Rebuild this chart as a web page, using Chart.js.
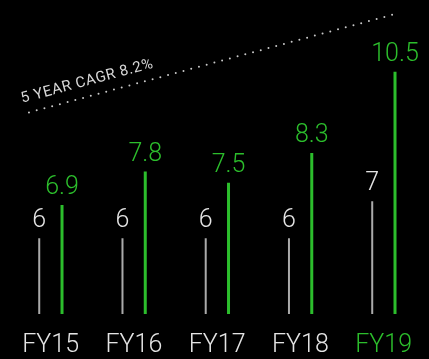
<!DOCTYPE html>
<html>
<head>
<meta charset="utf-8">
<title>Revenue FY15-FY19</title>
<style>
  html, body { margin: 0; padding: 0; background: #000; }
  .container { width: 429px; height: 359px; }
</style>
</head>
<body>
<div class="container">
  <canvas id="myChart"></canvas>
</div>
<script src="https://cdn.jsdelivr.net/npm/chart.js@4.4.0/dist/chart.umd.min.js"></script>
<script>
  // chart data
  var years = ['FY15', 'FY16', 'FY17', 'FY18', 'FY19'];
  var baseValues = [6, 6, 6, 6, 7];
  var greenValues = [6.9, 7.8, 7.5, 8.3, 10.5];
  // dotted CAGR line (x in category index units, y in value units)
  var cagrX = [-0.26, 4.12];
  var cagrY = [9.4, 12.05];
  var cagrLabel = '5 YEAR CAGR 8.2%';

  var GREEN = 'rgb(44, 190, 44)';
  var WHITE = 'rgb(228, 228, 228)';
  var GRAY = 'rgb(170, 170, 170)';
  var FONT = '"Helvetica Neue", Roboto, "Liberation Sans", sans-serif';

  var blackBg = {
    id: 'blackBg',
    beforeDraw: function(chart) {
      var c = chart.ctx;
      c.save();
      c.fillStyle = '#000';
      c.fillRect(0, 0, chart.width, chart.height);
      c.restore();
    }
  };

  // dotted CAGR line, drawn through the chart's scales
  var cagrPlugin = {
    id: 'cagrPlugin',
    afterDatasetsDraw: function(chart) {
      var c = chart.ctx;
      var xs = chart.scales.x, ys = chart.scales.y;
      var x0 = xs.getPixelForValue(cagrX[0]), y0 = ys.getPixelForValue(cagrY[0]);
      var x1 = xs.getPixelForValue(cagrX[1]), y1 = ys.getPixelForValue(cagrY[1]);
      c.save();
      c.strokeStyle = 'rgb(200, 200, 200)';
      c.lineWidth = 2;
      c.lineCap = 'round';
      c.setLineDash([0, 8]);
      c.beginPath();
      c.moveTo(x0, y0);
      c.lineTo(x1, y1);
      c.stroke();
      c.setLineDash([]);

      var ang = Math.atan2(y1 - y0, x1 - x0);
      c.translate(x0, y0);
      c.rotate(ang);
      c.font = '15px ' + FONT;
      c.letterSpacing = '0.6px';
      c.textAlign = 'left';
      c.textBaseline = 'alphabetic';
      c.fillStyle = 'rgb(215, 215, 215)';
      c.fillText(cagrLabel, -4, -11);
      c.restore();
    }
  };

  // value labels above bars
  var labelsPlugin = {
    id: 'labelsPlugin',
    afterDatasetsDraw: function(chart) {
      var c = chart.ctx;
      c.save();
      c.font = '300 25px ' + FONT;
      c.textAlign = 'center';
      c.textBaseline = 'alphabetic';
      chart.data.datasets.forEach(function(ds, d) {
        var meta = chart.getDatasetMeta(d);
        meta.data.forEach(function(el, i) {
          c.fillStyle = d === 0 ? WHITE : GREEN;
          c.fillText(String(ds.data[i]), el.x, el.y - 11);
        });
      });
      c.restore();
    }
  };

  var ctx = document.getElementById('myChart').getContext('2d');
  var chart = new Chart(ctx, {
    type: 'bar',
    data: {
      labels: years,
      datasets: [{
        label: 'Base',
        data: baseValues,
        backgroundColor: GRAY,
        maxBarThickness: 2
      },
      {
        label: 'Revenue',
        data: greenValues,
        backgroundColor: GREEN,
        maxBarThickness: 3
      }]
    },
    options: {
      responsive: true,
      maintainAspectRatio: false,
      animation: false,
      layout: { padding: { left: 9, right: 0, top: 0, bottom: 0 } },
      categoryPercentage: 0.5476,
      barPercentage: 1,
      plugins: {
        legend: { display: false },
        tooltip: { enabled: false }
      },
      scales: {
        x: {
          grid: { display: false, drawTicks: false },
          border: { display: false },
          afterFit: function(scale) { scale.height = 45; },
          ticks: {
            padding: 17,
            color: function(c) { return c.index === 4 ? GREEN : WHITE; },
            font: { family: FONT, size: 25, weight: 300 }
          }
        },
        y: {
          display: false,
          min: 3.95,
          max: 12.44
        }
      }
    },
    plugins: [blackBg, cagrPlugin, labelsPlugin]
  });
</script>
</body>
</html>
